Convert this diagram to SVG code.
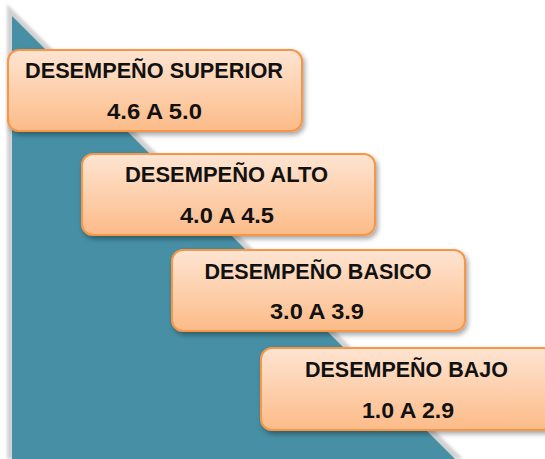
<svg xmlns="http://www.w3.org/2000/svg" width="545" height="459" viewBox="0 0 545 459">
  <defs>
    <linearGradient id="boxFill" x1="0" y1="0" x2="0" y2="1">
      <stop offset="0" stop-color="#fee4d2"/>
      <stop offset="0.5" stop-color="#fdd0ad"/>
      <stop offset="1" stop-color="#fcbb88"/>
    </linearGradient>
    <filter id="shadow" x="-10%" y="-20%" width="125%" height="150%">
      <feDropShadow dx="2" dy="3" stdDeviation="2.5" flood-color="#000000" flood-opacity="0.35"/>
    </filter>
    <filter id="soft" x="-5%" y="-5%" width="110%" height="110%">
      <feGaussianBlur stdDeviation="1.5"/>
    </filter>
  </defs>
  <style>
    .box { fill: url(#boxFill); stroke: #f79646; stroke-width: 2; filter: url(#shadow); }
    .t { font-family: "Liberation Sans", Arial, sans-serif; font-weight: bold; font-size: 22px; fill: #111111; text-anchor: middle; }
  </style>
  <rect x="0" y="0" width="545" height="459" fill="#ffffff"/>
  <g id="background">
    <polygon points="7,4 7,459 463,459" fill="#d2d2d2" filter="url(#soft)"/>
    <polygon points="12,16 12,459 455,459" fill="#468fa4"/>
  </g>
  <g id="connectors"></g>
  <g id="node-superior">
    <rect class="box" x="8" y="50" width="294" height="81" rx="11"/>
    <text class="t" x="154" y="78" textLength="258" lengthAdjust="spacingAndGlyphs">DESEMPEÑO SUPERIOR</text>
    <text class="t" x="154.5" y="119" textLength="95" lengthAdjust="spacingAndGlyphs">4.6 A 5.0</text>
  </g>
  <g id="node-alto">
    <rect class="box" x="82" y="154" width="293" height="81" rx="11"/>
    <text class="t" x="226.5" y="181.5" textLength="203" lengthAdjust="spacingAndGlyphs">DESEMPEÑO ALTO</text>
    <text class="t" x="227" y="222.5" textLength="94" lengthAdjust="spacingAndGlyphs">4.0 A 4.5</text>
  </g>
  <g id="node-basico">
    <rect class="box" x="172" y="250" width="293" height="81" rx="11"/>
    <text class="t" x="318" y="279" textLength="227" lengthAdjust="spacingAndGlyphs">DESEMPEÑO BASICO</text>
    <text class="t" x="317" y="319" textLength="94" lengthAdjust="spacingAndGlyphs">3.0 A 3.9</text>
  </g>
  <g id="node-bajo">
    <rect class="box" x="261" y="348" width="293" height="82" rx="11"/>
    <text class="t" x="406.5" y="376.5" textLength="203" lengthAdjust="spacingAndGlyphs">DESEMPEÑO BAJO</text>
    <text class="t" x="408" y="418" textLength="92" lengthAdjust="spacingAndGlyphs">1.0 A 2.9</text>
  </g>
</svg>
